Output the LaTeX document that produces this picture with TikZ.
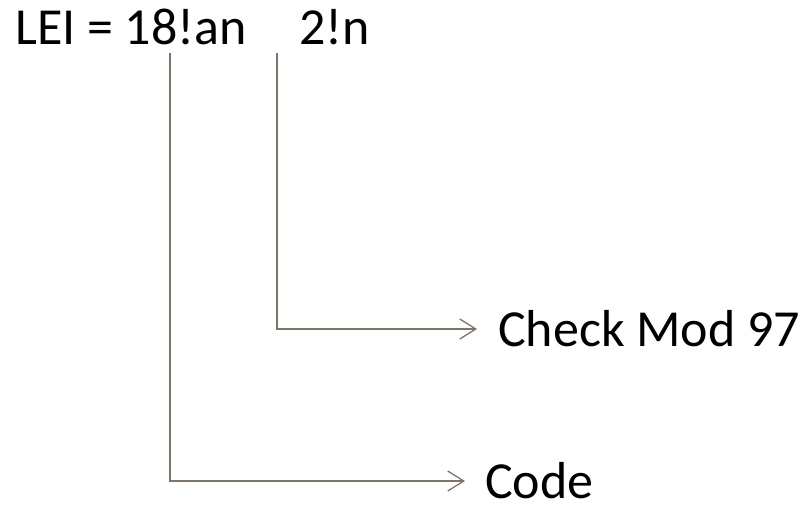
\documentclass[tikz,border=0pt]{standalone}
\usepackage{fontspec}
\setmainfont{Carlito}
\usetikzlibrary{arrows.meta}
\definecolor{leadgray}{HTML}{7F7468}
\tikzset{lead/.style={draw=leadgray, line width=1.4pt,
   -{Straight Barb[length=16pt,width=20pt,line width=1.3pt]}},
 label text/.style={font=\fontsize{52}{62}\selectfont, inner sep=0pt},
 }

\begin{document}
\begin{tikzpicture}[x=1pt,y=-1pt]
        \useasboundingbox (0,0) rectangle (811,508);
        \node[label text, anchor=base west] (lei) at (15,45) {LEI = 18!an};
        \node[label text, anchor=base west] (digits) at (299,45) {2!n};
        \coordinate (codetop) at (170,53);
        \coordinate (checktop) at (277,53);
        \node[label text, anchor=west, inner xsep=21pt] (check) at (477,329) {Check Mod 97};
        \node[label text, anchor=west, inner xsep=20pt] (code) at (465,481) {Code};
        \draw[lead] (checktop) |- (check);
        \draw[lead] (codetop) |- (code);
    \end{tikzpicture}
\end{document}
